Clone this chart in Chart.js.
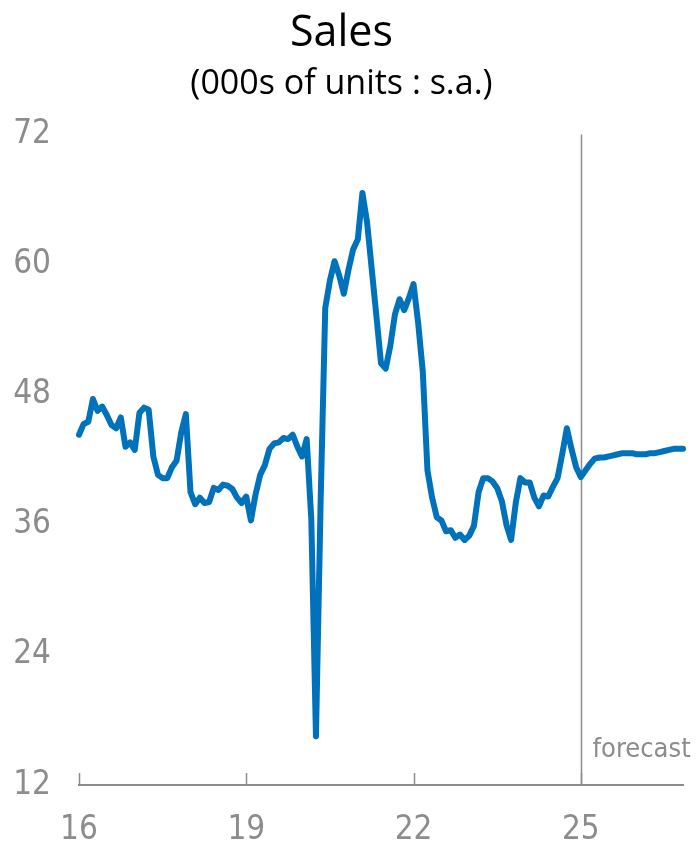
<!DOCTYPE html>
<html>
<head>
<meta charset="utf-8">
<script src="https://cdn.jsdelivr.net/npm/chart.js@4/dist/chart.umd.min.js"></script>
<style>
    body { margin: 0; background: #fff; }
    #wrap { position: relative; width: 697px; height: 846px; }
</style>
</head>
<body>
<div id="wrap"><canvas id="salesChart"></canvas></div>
<script>
// monthly sales, 000s of units, s.a.
const sales2016 = [44.3, 45.3, 45.5, 47.6, 46.5, 46.9, 46.1, 45.2, 44.9, 45.9, 43.2, 43.6];
const sales2017 = [42.9, 46.3, 46.8, 46.6, 42.3, 40.6, 40.3, 40.3, 41.3, 41.9, 44.5, 46.2];
const sales2018 = [39.0, 37.9, 38.5, 38.0, 38.1, 39.4, 39.2, 39.7, 39.6, 39.3, 38.5, 38.0];
const sales2019 = [38.6, 36.4, 38.8, 40.6, 41.5, 43.0, 43.5, 43.6, 44.0, 43.9, 44.3, 43.2];
const sales2020 = [42.3, 43.9, 36.5, 16.5, 38.0, 56.0, 58.5, 60.3, 59.0, 57.3, 59.5, 61.4];
const sales2021 = [62.3, 66.6, 63.9, 59.6, 55.3, 50.9, 50.4, 52.5, 55.4, 56.8, 55.8, 56.9];
const sales2022 = [58.2, 54.6, 50.1, 41.0, 38.5, 36.7, 36.4, 35.4, 35.5, 34.8, 35.1, 34.6];
const sales2023 = [35.0, 35.9, 39.0, 40.3, 40.3, 40.0, 39.4, 38.2, 36.0, 34.6, 38.0, 40.3];
const sales2024 = [39.9, 39.9, 38.5, 37.7, 38.7, 38.6, 39.5, 40.3, 42.5, 44.9, 43.0, 41.3];
const sales2025 = [40.4, 41.0, 41.6, 42.1, 42.2, 42.2, 42.3, 42.4, 42.5, 42.6, 42.6, 42.6];
const sales2026 = [42.5, 42.5, 42.5, 42.6, 42.6, 42.7, 42.8, 42.9, 43.0, 43.0, 43.0];

const years = [2016, 2017, 2018, 2019, 2020, 2021, 2022, 2023, 2024, 2025, 2026];
const tickYears = ['16', '19', '22', '25'];
const yTicks = [12, 24, 36, 48, 60, 72];
const forecastStart = '25-01';

const sales = [].concat(sales2016, sales2017, sales2018, sales2019, sales2020,
    sales2021, sales2022, sales2023, sales2024, sales2025, sales2026);

const labels = [];
years.forEach(y => {
    for (let m = 1; m <= 12; m++) labels.push(String(y).slice(2) + '-' + String(m).padStart(2, '0'));
});
labels.length = sales.length;

const gray = '#8c8c8c';
const fontFam = "'DejaVu Sans Condensed', 'Liberation Sans Narrow', sans-serif";

// short tick marks pointing up from the x axis + the forecast divider
const extras = {
    id: 'extras',
    beforeDatasetsDraw(chart) {
        const { ctx, chartArea, scales } = chart;
        const x = scales.x;
        ctx.save();
        ctx.strokeStyle = gray;
        ctx.lineWidth = 1.5;
        x.ticks.forEach(t => {
            const px = Math.round(x.getPixelForValue(t.value)) + 0.5;
            ctx.beginPath();
            ctx.moveTo(px, chartArea.bottom);
            ctx.lineTo(px, chartArea.bottom - 12);
            ctx.stroke();
        });
        const fx = Math.round(x.getPixelForValue(labels.indexOf(forecastStart))) + 0.5;
        ctx.beginPath();
        ctx.moveTo(fx, chartArea.top);
        ctx.lineTo(fx, chartArea.bottom);
        ctx.stroke();
        ctx.fillStyle = gray;
        ctx.font = '27px ' + fontFam;
        ctx.textAlign = 'left';
        ctx.textBaseline = 'alphabetic';
        ctx.fillText('forecast', fx + 11, chartArea.bottom - 28);
        ctx.restore();
    }
};

new Chart(document.getElementById('salesChart'), {
    type: 'line',
    data: {
        labels: labels,
        datasets: [{
            data: sales,
            borderColor: 'rgb(0, 114, 188)',
            borderWidth: 6,
            pointRadius: 0,
            tension: 0,
            borderJoinStyle: 'round',
            borderCapStyle: 'round'
        }]
    },
    options: {
        responsive: true,
        maintainAspectRatio: false,
        animation: false,
        layout: { padding: { left: 0, right: 14, top: 8, bottom: 0 } },
        plugins: {
            legend: { display: false },
            tooltip: { enabled: false },
            title: {
                display: true,
                text: 'Sales',
                color: '#000',
                font: { family: "'Open Sans', sans-serif", size: 43, weight: 'normal' },
                padding: { top: 0, bottom: 4 }
            },
            subtitle: {
                display: true,
                text: '(000s of units : s.a.)',
                color: '#000',
                font: { family: "'Open Sans', sans-serif", size: 34, weight: 'normal' },
                padding: { top: 0, bottom: 30 }
            }
        },
        scales: {
            x: {
                type: 'category',
                offset: false,
                grid: { display: false, drawTicks: false },
                border: { display: true, color: gray, width: 2 },
                afterBuildTicks: s => {
                    s.ticks = s.ticks.filter(t => tickYears.some(y => labels[t.value] === y + '-01'));
                },
                afterFit: s => { s.height = 61; },
                ticks: {
                    autoSkip: false,
                    maxRotation: 0,
                    color: gray,
                    padding: 26,
                    font: { family: fontFam, size: 33 },
                    callback: function (v) { return this.getLabelForValue(v).slice(0, 2); }
                }
            },
            y: {
                min: 12,
                max: 72,
                afterBuildTicks: s => { s.ticks = yTicks.map(v => ({ value: v })); },
                afterFit: s => { s.width = 79; },
                grid: { display: false, drawTicks: false },
                border: { display: false },
                ticks: {
                    color: gray,
                    padding: 28,
                    font: { family: fontFam, size: 33 }
                }
            }
        }
    },
    plugins: [extras]
});
</script>
</body>
</html>
